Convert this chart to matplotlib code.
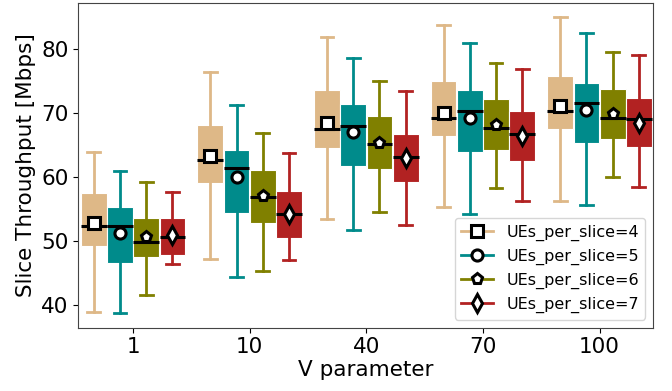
import numpy as np
import matplotlib
matplotlib.use("Agg")
import matplotlib.pyplot as plt
from matplotlib.lines import Line2D

# V parameter groups and UEs per slice
v_labels = ["1", "10", "40", "70", "100"]
ues_per_slice = [4, 5, 6, 7]

# box statistics per UEs_per_slice value, one entry per V group [Mbps]
whishi = {4: [63.8, 76.4, 81.8, 83.7, 84.9],
          5: [60.8, 71.2, 78.6, 80.9, 82.4],
          6: [59.2, 66.8, 74.9, 77.7, 79.4],
          7: [57.6, 63.7, 73.4, 76.8, 79.0]}
q3 = {4: [57.5, 68.1, 73.5, 74.95, 75.7],
      5: [55.3, 64.2, 71.3, 73.5, 74.6],
      6: [53.5, 61.0, 69.4, 72.1, 73.7],
      7: [53.5, 57.8, 66.7, 70.2, 72.25]}
med = {4: [52.3, 62.6, 67.5, 69.1, 70.2],
       5: [52.3, 61.3, 67.9, 70.2, 71.5],
       6: [49.8, 56.8, 65.1, 67.6, 69.1],
       7: [50.5, 54.1, 63.1, 66.6, 69.0]}
mean = {4: [52.8, 63.2, 68.4, 70.0, 71.0],
        5: [51.2, 59.9, 66.9, 69.1, 70.4],
        6: [50.5, 56.9, 65.2, 68.0, 69.75],
        7: [50.8, 54.2, 62.9, 66.4, 68.4]}
q1 = {4: [49.1, 59.0, 64.4, 66.4, 67.4],
      5: [46.5, 54.3, 61.6, 63.9, 65.2],
      6: [47.5, 52.8, 61.2, 64.2, 65.8],
      7: [47.8, 50.4, 59.1, 62.5, 64.7]}
whislo = {4: [38.8, 47.1, 53.3, 55.2, 56.2],
          5: [38.7, 44.3, 51.6, 54.1, 55.5],
          6: [41.5, 45.3, 54.5, 58.2, 60.0],
          7: [46.3, 46.9, 52.4, 56.2, 58.4]}

colors = {4: "burlywood", 5: "darkcyan", 6: "olive", 7: "firebrick"}
markers = {4: "s", 5: "o", 6: "p", 7: "d"}

fig = plt.figure(figsize=(6.72, 3.91), dpi=100)
ax = fig.add_axes([0.1165, 0.162, 0.8555, 0.830])

x = np.arange(len(v_labels))
group_width = 0.9
n = len(ues_per_slice)
w = group_width / n

handles = []
for i, u in enumerate(ues_per_slice):
    offset = (i - (n - 1) / 2) * w
    stats = []
    for j in range(len(v_labels)):
        stats.append(dict(whislo=whislo[u][j], q1=q1[u][j], med=med[u][j],
                          q3=q3[u][j], whishi=whishi[u][j], mean=mean[u][j]))
    c = colors[u]
    ms = 8 if u != 7 else 9
    ax.bxp(stats, positions=x + offset, widths=w * 0.98, patch_artist=True,
           showmeans=True, showfliers=False,
           boxprops=dict(facecolor=c, edgecolor="white", linewidth=0.8),
           whiskerprops=dict(color=c, linewidth=2),
           capprops=dict(color=c, linewidth=2),
           medianprops=dict(color="black", linewidth=2.2),
           meanprops=dict(marker=markers[u], markerfacecolor="white",
                          markeredgecolor="black", markeredgewidth=2.2,
                          markersize=ms))
    handles.append(Line2D([0], [0], color=c, linewidth=2, marker=markers[u],
                          markerfacecolor="white", markeredgecolor="black",
                          markeredgewidth=2.2, markersize=ms,
                          label="UEs_per_slice=%d" % u))

ax.set_xlim(-0.47, 4.46)
ax.set_ylim(36.4, 87.1)
ax.set_xticks(x)
ax.set_xticklabels(v_labels)
ax.set_yticks([40, 50, 60, 70, 80])
ax.tick_params(labelsize=15.5)
ax.set_xlabel("V parameter", fontsize=15.5, labelpad=2)
ax.set_ylabel("Slice Throughput [Mbps]", fontsize=15.5)
for s in ax.spines.values():
    s.set_color("#444444")

ax.legend(handles=handles, loc="lower right", fontsize=11.5, handlelength=2.0)

fig.savefig("out.png", dpi=100)
